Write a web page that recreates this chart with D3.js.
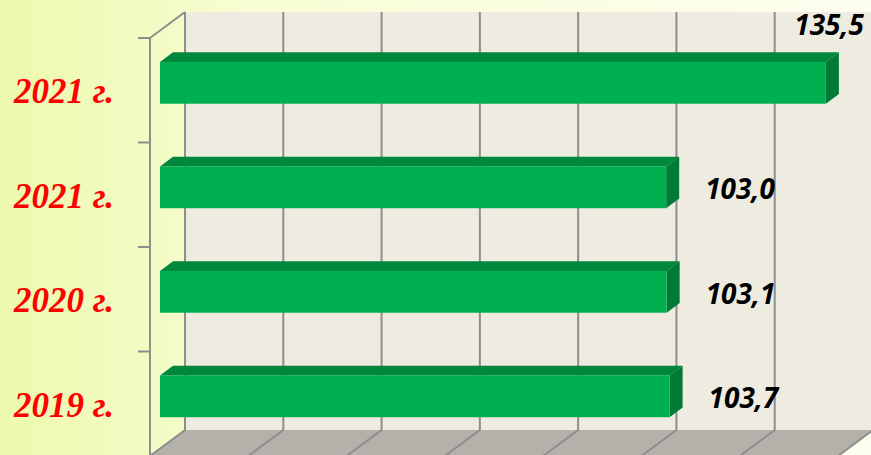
<!DOCTYPE html>
<html>
<head>
<meta charset="utf-8">
<script src="https://cdn.jsdelivr.net/npm/d3@7"></script>
<style>
    html, body {margin: 0; padding: 0; overflow: hidden;}
    .cat-label {font-family: 'Liberation Serif', 'Times New Roman', serif; font-weight: bold; font-style: italic; font-size: 35px; fill: #ff0000;}
    .bar-label {font-family: 'Open Sans', sans-serif; font-weight: bold; font-style: italic; font-size: 28px; fill: #000;}
</style>
</head>
<body>
<div id="content"></div>
<script>
const CATEGORIES = ['2021 г.', '2021 г.', '2020 г.', '2019 г.'];
const VALUES = [135.5, 103.0, 103.1, 103.7];
const X_TICKS = [0, 20, 40, 60, 80, 100, 120, 140];

var width = 871;
var height = 455;

// depth of the 3d box (front plane -> back wall)
var DX = 35;
var DY = -26;
// bar sits between these depth fractions
var D0 = 10 / 35;
var D1 = 23 / 35;

var ru = d3.formatLocale({decimal: ',', thousands: ' ', grouping: [3], currency: ['', '']});
var fmt = ru.format('.1f');

var svg = d3.select('#content')
.append('svg')
.attr('width', width)
.attr('height', height);

var grad = svg.append('defs')
.append('linearGradient')
.attr('id', 'bg')
.attr('x1', '0%').attr('x2', '100%').attr('y1', '0%').attr('y2', '0%');
grad.append('stop').attr('offset', '0%').attr('stop-color', '#edf9ad');
grad.append('stop').attr('offset', '30%').attr('stop-color', '#f8fdd4');
grad.append('stop').attr('offset', '100%').attr('stop-color', '#fefef0');

svg.append('rect')
.attr('width', width)
.attr('height', height)
.attr('fill', 'url(#bg)');

var xScale = d3.scaleLinear()
.domain([0, 140])
.range([150, 838]);

var yScale = d3.scaleBand()
.domain(d3.range(CATEGORIES.length))
.range([38, 456])
.paddingInner(0.6)
.paddingOuter(0.3);

var yTop = yScale.range()[0];
var yBottom = yScale.range()[1];
var xLeft = xScale.range()[0];
var xRight = xScale.range()[1];

// back wall
svg.append('polygon')
.attr('points', [[xLeft + DX, yTop + DY], [xRight + DX, yTop + DY], [xRight + DX, yBottom + DY], [xLeft + DX, yBottom + DY]].join(' '))
.attr('fill', '#eeebe1');

// floor
svg.append('polygon')
.attr('points', [[xLeft + DX, yBottom + DY], [xRight + DX, yBottom + DY], [xRight, yBottom], [xLeft, yBottom]].join(' '))
.attr('fill', '#b4b1aa');

// grid on wall and floor
svg.selectAll('.grid')
.data(X_TICKS)
.enter()
.append('polyline')
.attr('class', 'grid')
.attr('points', function (t) {
    var x = xScale(t);
    return [[x + DX, yTop + DY], [x + DX, yBottom + DY], [x, yBottom]].join(' ');
})
.attr('fill', 'none')
.attr('stroke', '#8e8e8e')
.attr('stroke-width', 2);

// left axis and its top edge
svg.append('polyline')
.attr('points', [[xLeft, yBottom], [xLeft, yTop], [xLeft + DX, yTop + DY]].join(' '))
.attr('fill', 'none')
.attr('stroke', '#8e8e8e')
.attr('stroke-width', 2);

var step = yScale.step();
svg.selectAll('.tick')
.data(d3.range(CATEGORIES.length))
.enter()
.append('line')
.attr('class', 'tick')
.attr('x1', xLeft - 12)
.attr('x2', xLeft)
.attr('y1', function (i) {return yTop + i * step})
.attr('y2', function (i) {return yTop + i * step})
.attr('stroke', '#8e8e8e')
.attr('stroke-width', 2);

// bars
var bw = yScale.bandwidth();
var ddx = DX * (D1 - D0);
var ddy = DY * (D1 - D0);

var bars = svg.selectAll('.bar')
.data(VALUES)
.enter()
.append('g')
.attr('class', 'bar');

function barBox(v, i) {
    var bx0 = xScale(0) + DX * D0;
    var bx1 = xScale(v) + DX * D0;
    var by0 = yScale(i) + DY * D0;
    var by1 = by0 + bw;
    return {x0: bx0, x1: bx1, y0: by0, y1: by1};
}

bars.append('polygon')
.attr('points', function (v, i) {
    var b = barBox(v, i);
    return [[b.x0, b.y0], [b.x1, b.y0], [b.x1 + ddx, b.y0 + ddy], [b.x0 + ddx, b.y0 + ddy]].join(' ');
})
.attr('fill', '#00873e');

bars.append('polygon')
.attr('points', function (v, i) {
    var b = barBox(v, i);
    return [[b.x1, b.y0], [b.x1 + ddx, b.y0 + ddy], [b.x1 + ddx, b.y1 + ddy], [b.x1, b.y1]].join(' ');
})
.attr('fill', '#007a35');

bars.append('rect')
.attr('x', function (v, i) {return barBox(v, i).x0})
.attr('y', function (v, i) {return barBox(v, i).y0})
.attr('width', function (v, i) {var b = barBox(v, i); return b.x1 - b.x0})
.attr('height', bw)
.attr('fill', '#00b050');

// value labels: beside the bar, or above it when there is no room
var maxV = d3.max(VALUES);
svg.selectAll('.bar-label')
.data(VALUES)
.enter()
.append('text')
.attr('class', 'bar-label')
.attr('text-anchor', function (v) {return v === maxV ? 'end' : 'start'})
.attr('x', function (v, i) {
    var b = barBox(v, i);
    return v === maxV ? b.x1 + 38 : b.x1 + 39;
})
.attr('y', function (v, i) {
    var b = barBox(v, i);
    return v === maxV ? b.y0 + ddy - 17 : (b.y0 + b.y1) / 2 + 12;
})
.text(function (v) {return fmt(v)});

// category labels
svg.selectAll('.cat-label')
.data(CATEGORIES)
.enter()
.append('text')
.attr('class', 'cat-label')
.attr('text-anchor', 'end')
.attr('x', 114)
.attr('y', function (c, i) {return yScale(i) + bw / 2 + 13})
.text(function (c) {return c});
</script>
</body>
</html>
